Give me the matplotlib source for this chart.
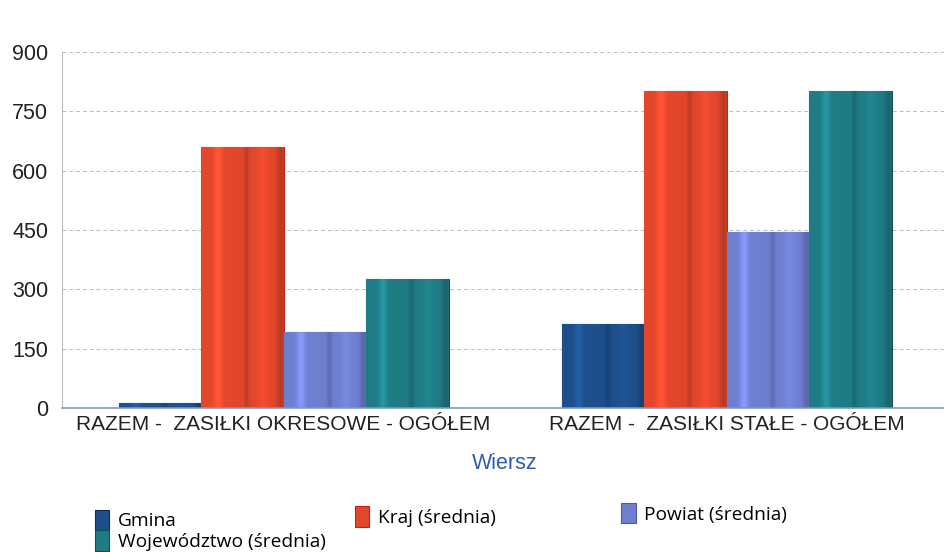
import matplotlib
matplotlib.use("Agg")
import matplotlib.pyplot as plt
import numpy as np
from matplotlib.colors import to_rgb

categories = ["RAZEM -  ZASIŁKI OKRESOWE - OGÓŁEM", "RAZEM -  ZASIŁKI STAŁE - OGÓŁEM"]
series_names = ["Gmina", "Kraj (średnia)", "Powiat (średnia)", "Województwo (średnia)"]
gmina = [12, 212]
kraj = [660, 800]
powiat = [192, 445]
wojewodztwo = [326, 800]
yticks = [0, 150, 300, 450, 600, 750, 900]

colors = ["#1d4f8a", "#e2472c", "#6f7fd0", "#1f7c85"]
edges = ["#0f2e5a", "#c81e18", "#4a5aa8", "#124f55"]

fig = plt.figure(figsize=(9.44, 5.52), dpi=100)
ax = fig.add_axes([0.0657, 0.261, 0.9386, 0.645])

values = [gmina, kraj, powiat, wojewodztwo]
x = np.arange(len(categories))
group_w = 0.745
bw = group_w / len(values)
handles = []

# horizontal shading profile to mimic the cylindrical stripes
prof_x = np.linspace(0, 1, 60)
profile = (1.0 + 0.22 * np.exp(-((prof_x - 0.2) / 0.05) ** 2)
           - 0.15 * np.exp(-((prof_x - 0.55) / 0.03) ** 2)
           + 0.08 * np.exp(-((prof_x - 0.75) / 0.06) ** 2)
           - 0.18 * np.exp(-((prof_x - 0.97) / 0.05) ** 2))

for i, (vals, name) in enumerate(zip(values, series_names)):
    pos = x - group_w / 2 + bw * (i + 0.5)
    b = ax.bar(pos, vals, width=bw, color=colors[i], edgecolor=edges[i],
               linewidth=0.8, label=name, zorder=3)
    handles.append(b)
    base = np.array(to_rgb(colors[i]))
    img = np.clip(base[None, :] * profile[:, None], 0, 1)[None, :, :]
    for p in b.patches:
        x0, w, h = p.get_x(), p.get_width(), p.get_height()
        im = ax.imshow(img, extent=(x0, x0 + w, 0, h), aspect="auto",
                       interpolation="bilinear", zorder=3.5)
        im.set_clip_path(p)

ax.set_xlim(-0.5, 1.5)
ax.set_ylim(0, 900)
ax.set_yticks(yticks)
ax.set_yticklabels([str(v) for v in yticks], fontsize=15.5, family="Liberation Sans", color="#222222")
ax.set_xticks(x)
ax.set_xticklabels(categories, fontsize=15, family="Liberation Sans", color="#222222")
ax.tick_params(axis="both", length=0)
ax.tick_params(axis="y", pad=10)
ax.tick_params(axis="x", pad=5)
ax.grid(axis="y", color="#bbbbbb", linestyle=(0, (4, 3)), linewidth=0.7, zorder=0)
for s in ["top", "right"]:
    ax.spines[s].set_visible(False)
ax.spines["left"].set_color("#bbbbbb")
ax.spines["left"].set_linewidth(0.8)
ax.spines["bottom"].set_color("#7f93c8")
ax.spines["bottom"].set_linewidth(1.2)
ax.spines["bottom"].set_zorder(4)

ax.set_xlabel("Wiersz", fontsize=15.5, color="#2f5db0", family="Liberation Sans", labelpad=14)

prop = {"family": "Open Sans", "size": 13.8}
common = dict(frameon=False, handlelength=0.75, handleheight=1.25,
              labelspacing=0.0, handletextpad=0.45, borderpad=0, prop=prop)
leg1 = fig.legend([handles[0], handles[3]], [series_names[0], series_names[3]],
                  loc="upper left", bbox_to_anchor=(0.090, 0.094), **common)
leg2 = fig.legend([handles[1]], [series_names[1]],
                  loc="upper left", bbox_to_anchor=(0.366, 0.100), **common)
leg3 = fig.legend([handles[2]], [series_names[2]],
                  loc="upper left", bbox_to_anchor=(0.648, 0.106), **common)

fig.savefig("out.png", dpi=100)
